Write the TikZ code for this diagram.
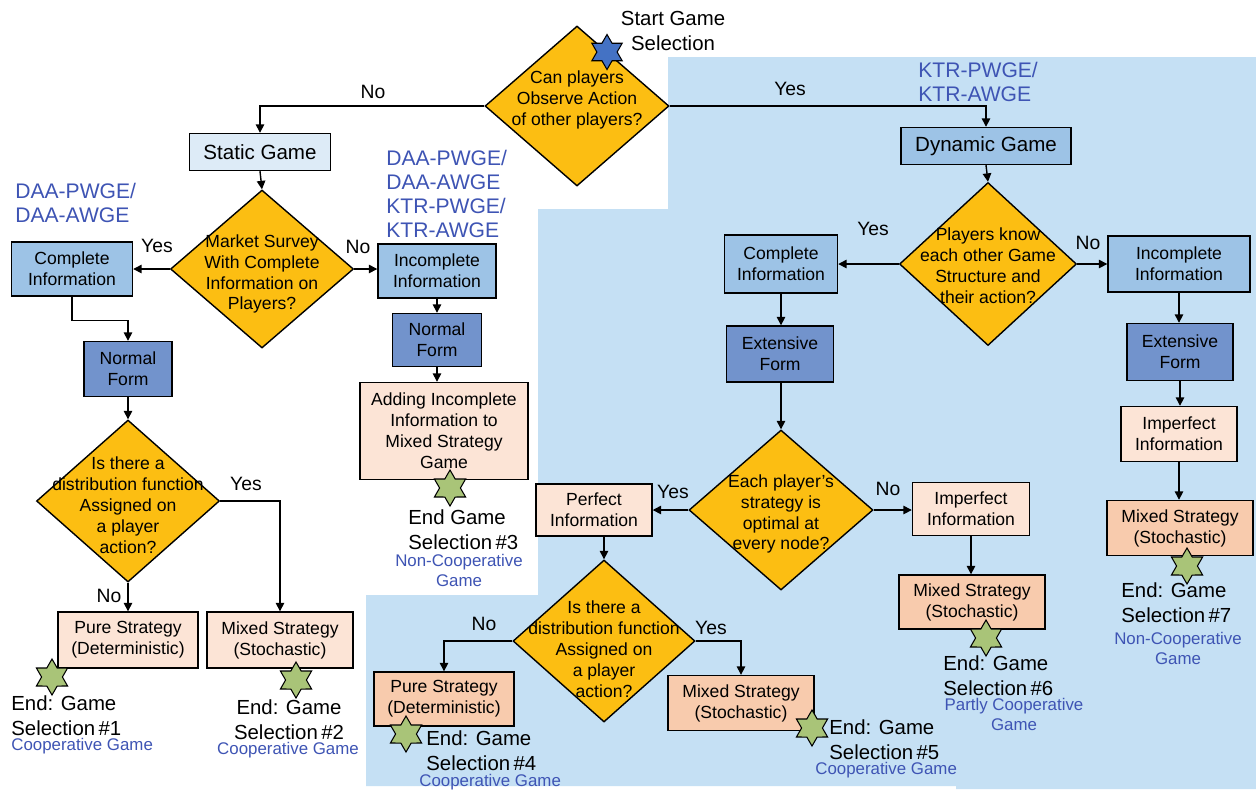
\documentclass[tikz,border=0pt]{standalone}
\usepackage{fontspec}
\setmainfont{Liberation Sans}
\usetikzlibrary{shapes.geometric,arrows.meta}
\definecolor{bgblue}{RGB}{197,224,244}
\definecolor{orng}{RGB}{252,190,18}
\definecolor{lblue}{RGB}{157,195,230}
\definecolor{xlblue}{RGB}{221,235,247}
\definecolor{dblue}{RGB}{114,147,204}
\definecolor{lpeach}{RGB}{252,228,214}
\definecolor{dpeach}{RGB}{248,203,173}
\definecolor{sgreen}{RGB}{169,196,120}
\definecolor{sblue}{RGB}{68,114,196}
\definecolor{tblue}{RGB}{62,84,180}
\newcommand\mybox{\fontsize{10}{11.9}\selectfont}
\newcommand\mybig{\fontsize{11.6}{14.2}\selectfont}
\newcommand\mygame{\fontsize{11.7}{14}\selectfont}
\newcommand\myblue{\fontsize{12}{14}\selectfont}
\newcommand\mysmall{\fontsize{9.6}{11.4}\selectfont}
\newcommand\myyn{\fontsize{11}{13}\selectfont}
\tikzset{
  sz/.style 2 args={minimum width=#1*0.02cm, minimum height=#2*0.02cm},
  box/.style={draw=black, line width=0.8pt, inner sep=0pt, align=center, font=\mybox},
  dia/.style={diamond, draw=black, fill=orng, line width=0.8pt, inner sep=0pt},
  dtext/.style={align=center, font=\mybox, inner sep=0pt},
  gstar/.style={star, star points=6, star point ratio=1.73, minimum size=36*0.02cm, inner sep=0pt, draw=black, line width=0.6pt, fill=sgreen},
  endtxt/.style={align=left, font=\mybig, inner sep=0pt, anchor=west},
  coop/.style={align=center, font=\mysmall, text=tblue, inner sep=0pt},
  lbl/.style={align=left, font=\myblue, text=tblue, inner sep=0pt, anchor=west},
  yn/.style={font=\myyn, inner sep=0pt},
  arr/.style={-{Triangle[length=4.8pt,width=4.8pt]}, line width=0.8pt},
}
\begin{document}
\begin{tikzpicture}[x=0.02cm, y=-0.02cm]
\useasboundingbox (0,0) rectangle (1256,789);
\fill[white] (0,0) rectangle (1256,789);
\fill[bgblue] (668,57) -- (1256,57) -- (1256,789) -- (956,789) -- (956,786) -- (366,786) -- (366,595) -- (538,595) -- (538,209) -- (668,209) -- cycle;

% top diamond
\node[dia, sz={184}{160}] (d1) at (577,106) {};
\node[dtext] (d1t) at (577,100) {Can players\\Observe Action\\of other players?};
\node[gstar, fill=sblue, minimum size=35*0.02cm] (s0) at (607,52) {};
\node[align=center, font=\mybig, inner sep=0pt] (st) at (673,31) {Start Game\\Selection};

% static branch
\node[box, fill=xlblue, sz={141}{37}, font=\mygame] (static) at (260,152) {Static Game};
\node[dia, sz={183}{158}] (d2) at (262,269) {};
\node[dtext] (d2t) at (262,274) {Market Survey\\With Complete\\Information on\\Players?};
\node[box, fill=lblue, sz={121}{54}] (cinfL) at (72,269) {Complete\\Information};
\node[box, fill=dblue, sz={88}{55}] (nfL) at (128,369) {Normal\\Form};
\node[dia, sz={183}{162}] (d3) at (128,501) {};
\node[dtext] (d3t) at (128,505) {Is there a\\distribution function\\Assigned on\\a player\\action?};
\node[box, fill=lpeach, sz={140}{56}] (pureL) at (128,640) {Pure Strategy\\(Deterministic)};
\node[box, fill=lpeach, sz={146}{56}] (mixL) at (280,640) {Mixed Strategy\\(Stochastic)};
\node[gstar] (s1) at (52,677) {};
\node[gstar] (s2) at (296,680) {};
\node[endtxt] (e1) at (11,715.5) {End: Game\\Selection\,\#1};
\node[coop, anchor=west] (c1) at (11,746) {Cooperative Game};
\node[align=center, font=\mybig, inner sep=0pt] (e2) at (289,719.5) {End: Game\\Selection\,\#2};
\node[coop] (c2) at (288,750) {Cooperative Game};

\node[box, fill=lblue, sz={118}{54}] (incM) at (437,271) {Incomplete\\Information};
\node[box, fill=dblue, sz={89}{53}] (nfM) at (437,340) {Normal\\Form};
\node[box, fill=lpeach, sz={168}{97}] (addM) at (444,431) {Adding Incomplete\\Information to\\Mixed Strategy\\Game};
\node[gstar] (s3) at (450,488) {};
\node[endtxt] (e3) at (408,529.5) {End Game\\Selection\,\#3};
\node[coop] (c3) at (459,570) {Non-Cooperative\\Game};

% labels
\node[lbl] (l1) at (918,82) {KTR-PWGE/\\KTR-AWGE};
\node[lbl] (l2) at (15,203) {DAA-PWGE/\\DAA-AWGE};
\node[lbl, font=\fontsize{12}{13.8}\selectfont] (l3) at (386,194) {DAA-PWGE/\\DAA-AWGE\\KTR-PWGE/\\KTR-AWGE};

% dynamic branch
\node[box, fill=lblue, sz={170}{37}, font=\mygame] (dyn) at (986,146) {Dynamic Game};
\node[dia, sz={177}{163}] (d4) at (988,264) {};
\node[dtext] (d4t) at (988,266) {Players know\\each other Game\\Structure and\\their action?};
\node[box, fill=lblue, sz={113}{58}] (cinfR) at (781,264) {Complete\\Information};
\node[box, fill=dblue, sz={107}{56}] (extM) at (780,354) {Extensive\\Form};
\node[dia, sz={184}{160}] (d5) at (781,510) {};
\node[dtext] (d5t) at (781,514) {Each player's\\strategy is\\optimal at\\every node?};
\node[box, fill=lpeach, sz={116}{52}] (perf) at (594,510) {Perfect\\Information};
\node[dia, sz={182}{162}] (d6) at (604,641) {};
\node[dtext] (d6t) at (604,649) {Is there a\\distribution function\\Assigned on\\a player\\action?};
\node[box, fill=dpeach, sz={140}{54}] (pureM) at (444,699) {Pure Strategy\\(Deterministic)};
\node[box, fill=dpeach, sz={146}{55}] (mixM) at (741,703) {Mixed Strategy\\(Stochastic)};
\node[gstar] (s4) at (406,734) {};
\node[gstar] (s5) at (812,728) {};
\node[endtxt] (e4) at (426,751) {End: Game\\Selection\,\#4};
\node[coop, anchor=west] (c4) at (419,782) {Cooperative Game};
\node[endtxt] (e5) at (829,739.5) {End: Game\\Selection\,\#5};
\node[coop, anchor=west] (c5) at (815,770) {Cooperative Game};

\node[box, fill=lpeach, sz={117}{53}] (impM) at (971,509) {Imperfect\\Information};
\node[box, fill=dpeach, sz={146}{54}] (mixMR) at (972,602) {Mixed Strategy\\(Stochastic)};
\node[gstar] (s6) at (986,638) {};
\node[endtxt] (e6) at (943,675.5) {End: Game\\Selection\,\#6};
\node[coop] (c6) at (1014,714.5) {Partly Cooperative\\Game};

\node[box, fill=lblue, sz={142}{56}] (incR) at (1179,264) {Incomplete\\Information};
\node[box, fill=dblue, sz={106}{57}] (extR) at (1180,352) {Extensive\\Form};
\node[box, fill=lpeach, sz={116}{55}] (impR) at (1179,434) {Imperfect\\Information};
\node[box, fill=dpeach, sz={146}{55}] (mixR) at (1180,528) {Mixed Strategy\\(Stochastic)};
\node[gstar] (s7) at (1187,566) {};
\node[endtxt] (e7) at (1121,602.5) {End: Game\\Selection\,\#7};
\node[coop] (c7) at (1178,648) {Non-Cooperative\\Game};

% connectors
\draw[arr] (d1.west) -| (static.north);
\draw[arr] (d1.east) -| (dyn.north);
\draw[arr] (static.south) -- (d2.north);
\draw[arr] (d2.west) -- (cinfL.east);
\draw[arr] (d2.east) -- (d2.east -| incM.west);
\draw[arr] (cinfL.south) -- ++(0,24) -| (nfL.north);
\draw[arr] (nfL.south) -- (d3.north);
\draw[arr] (d3.east) -| (mixL.north);
\draw[arr] (d3.south) -- (pureL.north);
\draw[arr] (incM.south) -- (nfM.north);
\draw[arr] (nfM.south) -- (nfM.south |- addM.north);
\draw[arr] (dyn.south) -- (d4.north);
\draw[arr] (d4.west) -- (cinfR.east);
\draw[arr] (d4.east) -- (incR.west);
\draw[arr] (cinfR.south) -- (cinfR.south |- extM.north);
\draw[arr] (extM.south) -- (extM.south -| d5.north) -- (d5.north);
\draw[arr] (d5.west) -- (perf.east);
\draw[arr] (d5.east) -- (d5.east -| impM.west);
\draw[arr] (perf.south -| d6.north) -- (d6.north);
\draw[arr] (d6.west) -| (pureM.north);
\draw[arr] (d6.east) -| (mixM.north);
\draw[arr] (impM.south) -- (impM.south |- mixMR.north);
\draw[arr] (incR.south) -- (incR.south |- extR.north);
\draw[arr] (extR.south) -- (extR.south |- impR.north);
\draw[arr] (impR.south) -- (impR.south |- mixR.north);

% yes/no labels
\node[yn] (y1) at (373,92) {No};
\node[yn] (y2) at (790,89) {Yes};
\node[yn] (y3) at (157,246) {Yes};
\node[yn] (y4) at (358,247) {No};
\node[yn] (y5) at (246,484) {Yes};
\node[yn] (y6) at (109,596) {No};
\node[yn] (y7) at (873,229) {Yes};
\node[yn] (y8) at (1088,243) {No};
\node[yn] (y9) at (673,492) {Yes};
\node[yn] (y10) at (888,489) {No};
\node[yn] (y11) at (484,624) {No};
\node[yn] (y12) at (711,628) {Yes};
\end{tikzpicture}
\end{document}
